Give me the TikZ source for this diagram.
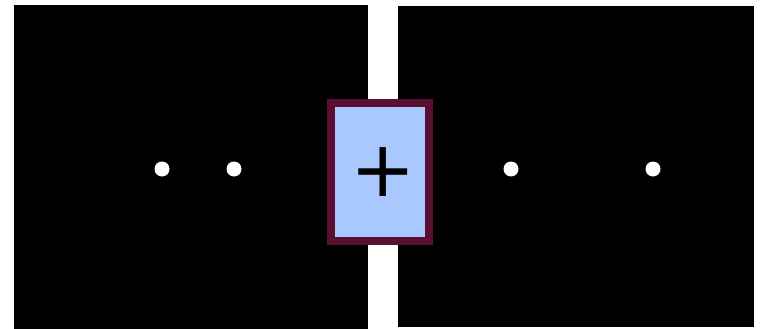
\documentclass[tikz,border=0pt]{standalone}
\usepackage{fontspec}
\newfontfamily\plusfont{DejaVu Sans}
\definecolor{boxborder}{HTML}{5A1030}
\definecolor{boxfill}{HTML}{A9C8FF}
\begin{document}
\begin{tikzpicture}[x=1pt,y=-1pt,
  panel/.style={fill=black,draw=none},
  dot/.style={circle,fill=white,draw=none,minimum size=15pt,inner sep=0pt},
  opbox/.style={draw=boxborder,fill=boxfill,line width=8pt}]
\useasboundingbox (0,0) rectangle (761,329);
\fill[panel] (14,5) rectangle (368,329);
\fill[panel] (398,6) rectangle (754,327);
\node[dot] (l1) at (162,169) {};
\node[dot] (l2) at (234,169) {};
\node[dot] (r1) at (511,169) {};
\node[dot] (r2) at (653,169) {};
\draw[opbox] (331,103) rectangle (429,241);
\node[inner sep=0pt] (plus) at (383,172) {\plusfont\fontsize{78}{78}\selectfont +};
\end{tikzpicture}
\end{document}
